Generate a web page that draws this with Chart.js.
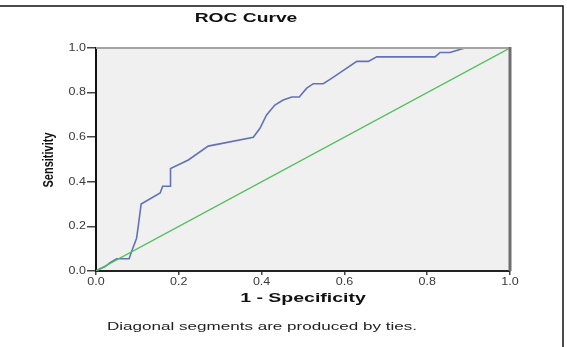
<!DOCTYPE html>
<html>
<head>
<meta charset="utf-8">
<script src="https://cdn.jsdelivr.net/npm/chart.js@4"></script>
<style>
  body { margin: 0; background: #fff; }
  canvas { display: block; }
</style>
</head>
<body>
<canvas id="rocChart" width="567" height="347"></canvas>
<script>
// ROC curve points (1 - specificity, sensitivity)
const fpr = [0, 0.01, 0.022, 0.034, 0.05, 0.08, 0.086, 0.098, 0.102, 0.109, 0.155, 0.161, 0.18, 0.18, 0.203, 0.223,
    0.271, 0.38, 0.396, 0.412, 0.432, 0.452, 0.473, 0.491, 0.509, 0.525, 0.549, 0.569, 0.63, 0.658, 0.678,
    0.819, 0.831, 0.855, 0.891, 1]
const tpr = [0, 0.01, 0.02, 0.037, 0.055, 0.055, 0.087, 0.147, 0.2, 0.3, 0.35, 0.38, 0.38, 0.46, 0.48, 0.498,
    0.56, 0.6, 0.64, 0.7, 0.744, 0.767, 0.78, 0.78, 0.82, 0.84, 0.84, 0.864, 0.94, 0.94, 0.96,
    0.96, 0.98, 0.98, 1, 1]
// reference line
const refX = [0, 1]
const refY = [0, 1]
const tickLabels = ['0.0', '0.2', '0.4', '0.6', '0.8', '1.0']

const toPoints = (xs, ys) => xs.map((x, i) => ({ x: x, y: ys[i] }))

// text in this chart is drawn a bit wider than the plain font
const wideText = (ctx, text, x, y, font, sx, align, color) => {
    ctx.save()
    ctx.translate(x, y)
    ctx.scale(sx, 1)
    ctx.font = font
    ctx.fillStyle = color
    ctx.textAlign = align
    ctx.textBaseline = 'middle'
    ctx.fillText(text, 0, 0)
    ctx.restore()
}

const rocDecor = {
    id: 'rocDecor',
    beforeDraw(chart) {
        const { ctx, chartArea: a } = chart
        ctx.save()
        ctx.fillStyle = '#f0f0f0'
        ctx.fillRect(a.left, a.top, a.right - a.left, a.bottom - a.top)
        ctx.restore()
    },
    afterDraw(chart) {
        const { ctx, chartArea: a, scales } = chart
        ctx.save()
        // top and right edges of the plot box
        ctx.lineWidth = 2
        ctx.strokeStyle = '#a3a3a3'
        ctx.beginPath()
        ctx.moveTo(a.left, a.top)
        ctx.lineTo(a.right, a.top)
        ctx.stroke()
        ctx.lineWidth = 3
        ctx.strokeStyle = '#6e6e6e'
        ctx.beginPath()
        ctx.moveTo(a.right, a.top - 1)
        ctx.lineTo(a.right, a.bottom)
        ctx.stroke()
        // outer frame
        ctx.lineWidth = 1.5
        ctx.strokeStyle = '#111'
        ctx.beginPath()
        ctx.moveTo(0, 6)
        ctx.lineTo(563, 6)
        ctx.lineTo(563, 347)
        ctx.stroke()
        ctx.restore()

        // tick labels
        const tickFont = '10px "Liberation Sans", Arial, sans-serif'
        scales.x.ticks.forEach((t, i) => {
            wideText(ctx, tickLabels[i], scales.x.getPixelForValue(t.value), 282, tickFont, 1.25, 'center', '#3a3a3a')
        })
        scales.y.ticks.forEach((t, i) => {
            wideText(ctx, tickLabels[i], 86, scales.y.getPixelForValue(t.value), tickFont, 1.25, 'right', '#3a3a3a')
        })

        wideText(ctx, 'ROC Curve', 246, 18, 'bold 13px "Liberation Sans", Arial, sans-serif', 1.48, 'center', '#111')
        wideText(ctx, '1 - Specificity', 303, 298, 'bold 13px "Liberation Sans", Arial, sans-serif', 1.5, 'center', '#111')
        wideText(ctx, 'Diagonal segments are produced by ties.', 107, 327, '11px "Liberation Sans", Arial, sans-serif', 1.55, 'left', '#222')

        // rotated y axis title
        ctx.save()
        ctx.translate(49, 160)
        ctx.rotate(-Math.PI / 2)
        ctx.scale(1, 1.4)
        ctx.font = 'bold 11px "Liberation Sans", Arial, sans-serif'
        ctx.fillStyle = '#111'
        ctx.textAlign = 'center'
        ctx.textBaseline = 'middle'
        ctx.fillText('Sensitivity', 0, 0)
        ctx.restore()
    }
}

const ctx = document.getElementById('rocChart').getContext('2d')

const rocChart = new Chart(ctx, {
    type: 'line',
    data: {
        datasets: [{
            label: 'Reference Line',
            data: toPoints(refX, refY),
            borderColor: '#4fbf5a',
            borderWidth: 1.3,
            pointRadius: 0
        }, {
            label: 'ROC',
            data: toPoints(fpr, tpr),
            borderColor: '#6272b8',
            borderWidth: 1.6,
            pointRadius: 0
        }]
    },
    options: {
        responsive: false,
        animation: false,
        events: [],
        layout: {
            padding: { top: 48, right: 57, bottom: 0, left: 0 }
        },
        plugins: {
            legend: { display: false },
            tooltip: { enabled: false }
        },
        scales: {
            x: {
                type: 'linear',
                min: 0,
                max: 1,
                ticks: { display: false, stepSize: 0.2 },
                grid: { drawOnChartArea: false, tickLength: 4, color: '#444', lineWidth: 1.5 },
                border: { color: '#222', width: 2 },
                afterFit(scale) {
                    scale.height = 76
                    scale.paddingLeft = 0
                    scale.paddingRight = 0
                }
            },
            y: {
                type: 'linear',
                min: 0,
                max: 1,
                ticks: { display: false, stepSize: 0.2 },
                grid: { drawOnChartArea: false, tickLength: 9, color: '#444', lineWidth: 1.5 },
                border: { color: '#111', width: 2 },
                afterFit(scale) {
                    scale.width = 96
                    scale.paddingTop = 0
                    scale.paddingBottom = 0
                }
            }
        }
    },
    plugins: [rocDecor]
})
</script>
</body>
</html>
